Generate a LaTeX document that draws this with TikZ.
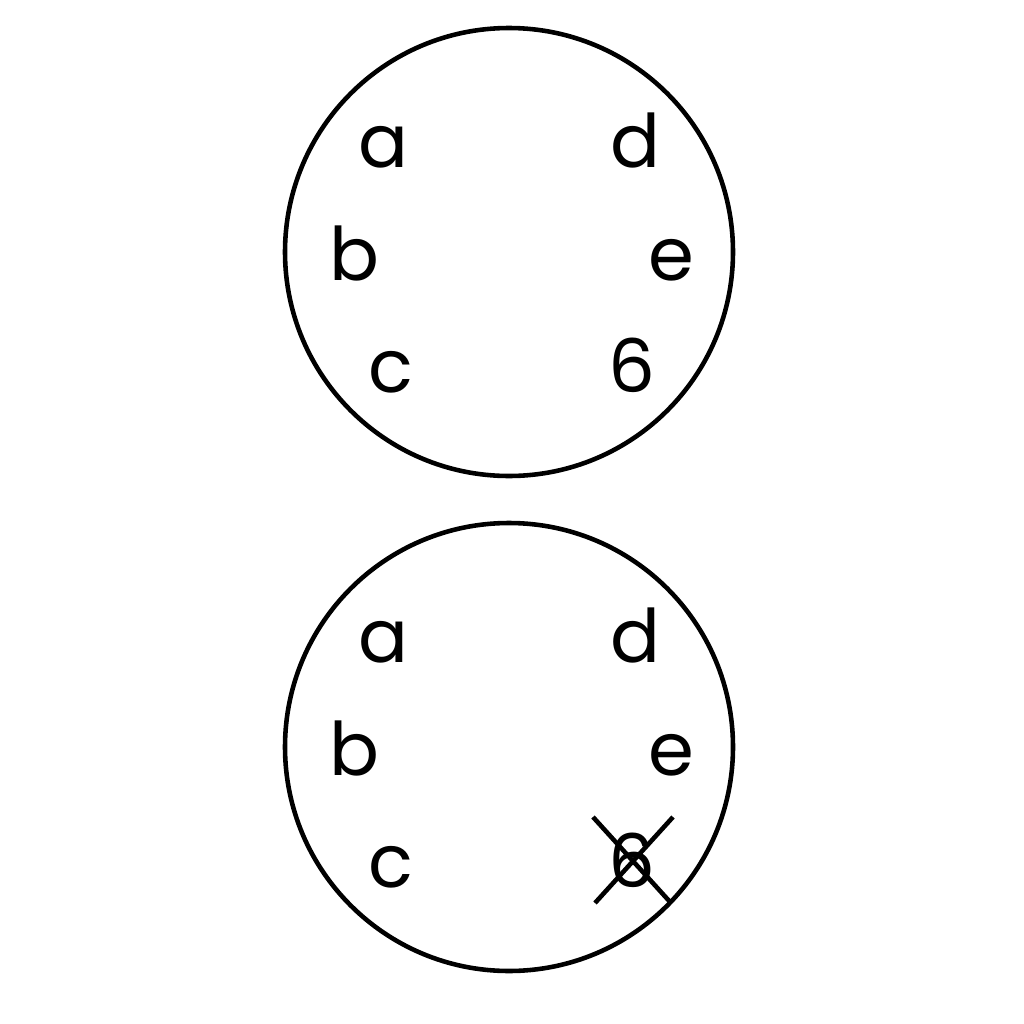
\documentclass[tikz,border=0pt]{standalone}
\usepackage{fontspec}
\setmainfont{Poppins}
\begin{document}
\begin{tikzpicture}[x=0.01cm,y=-0.01cm]
\tikzstyle{every node}+=[inner sep=0pt,anchor=base,font=\fontsize{21}{25}\selectfont]
\useasboundingbox (0,0) rectangle (1024,1024);
\draw [black,line width=1.3pt] (509,252) circle (224);
\node (a1) at (383,167) {a};
\node (b1) at (354,280) {b};
\node (c1) at (391,392) {c};
\node (d1) at (635,167) {d};
\node (e1) at (671,280) {e};
\node (f1) at (632,392) {6};
\draw [black,line width=1.3pt] (509,747) circle (224);
\node (a2) at (383,662) {a};
\node (b2) at (354,775) {b};
\node (c2) at (391,887) {c};
\node (d2) at (635,662) {d};
\node (e2) at (671,775) {e};
\node (f2) at (632,887) {6};
\coordinate (x1) at (593,817);
\coordinate (x2) at (671,903);
\coordinate (x3) at (595,903);
\coordinate (x4) at (673,817);
\draw [black,line width=1.3pt] (x1) -- (x2);
\draw [black,line width=1.3pt] (x3) -- (x4);
\end{tikzpicture}
\end{document}
